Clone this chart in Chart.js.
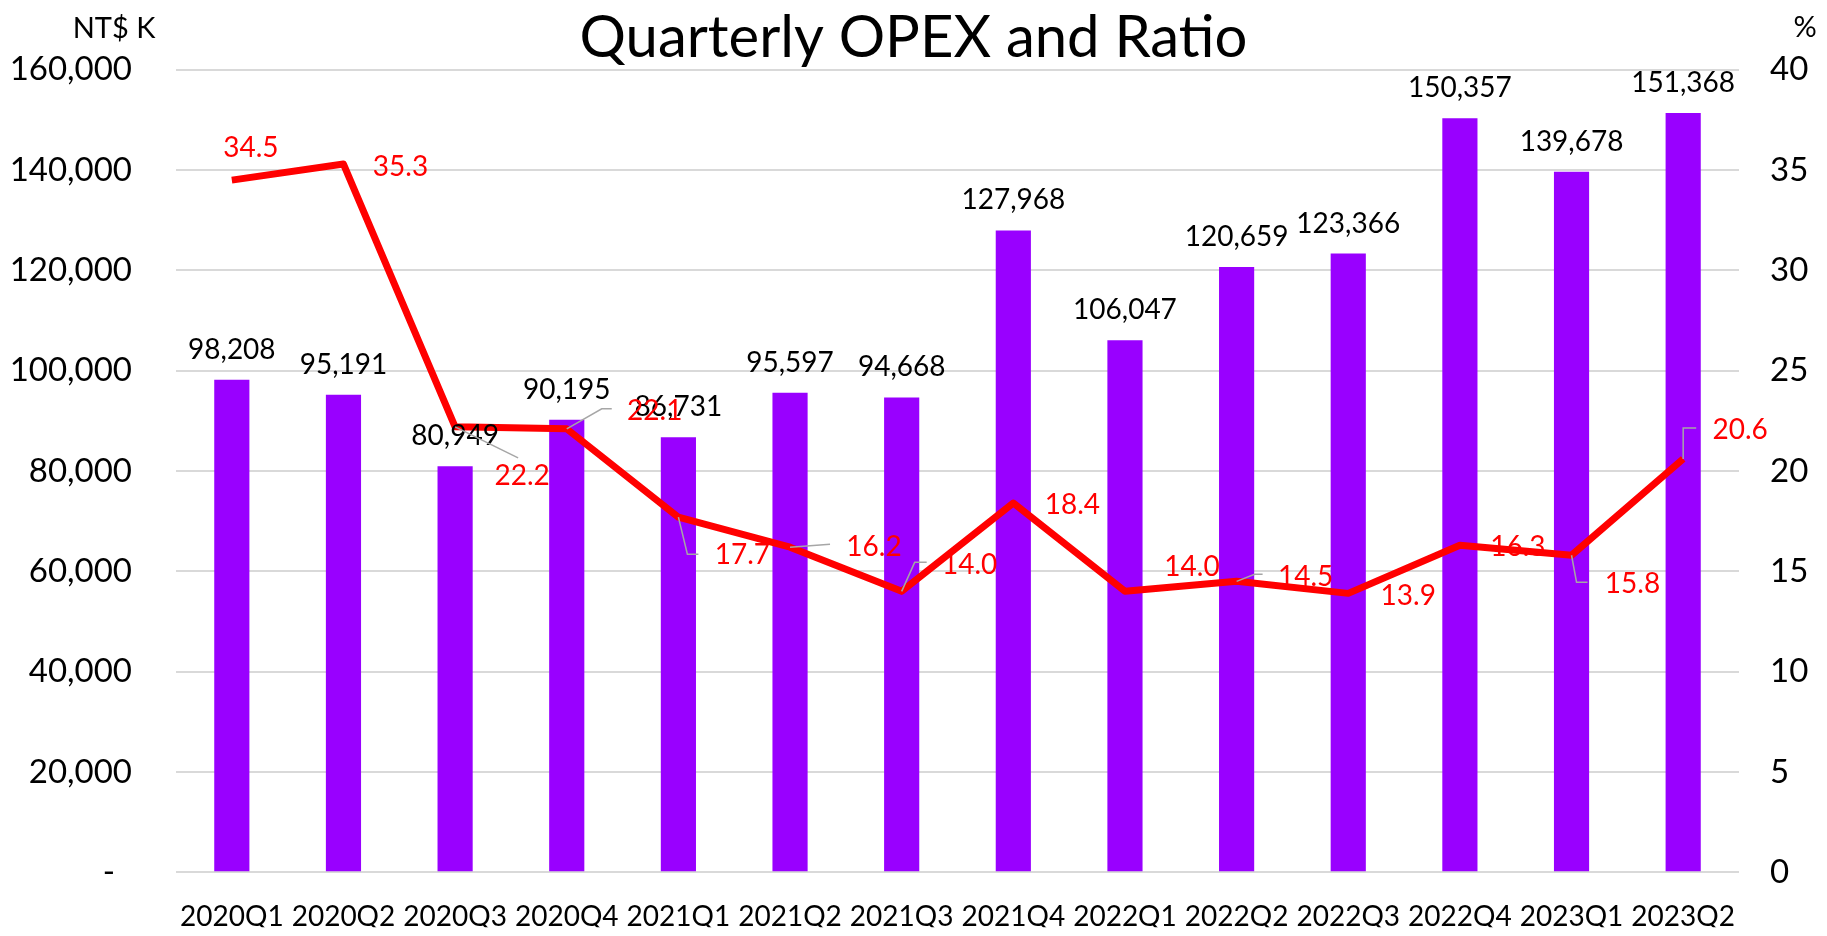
<!DOCTYPE html>
<html>
<head>
<meta charset="utf-8">
<script src="https://cdn.jsdelivr.net/npm/chart.js@4"></script>
<style>
  body { margin: 0; background: #fff; }
  #wrap { width: 1827px; height: 936px; }
</style>
</head>
<body>
<div id="wrap"><canvas id="opexChart" width="1827" height="936"></canvas></div>
<script>
// quarters on the x axis
const quarters = ['2020Q1', '2020Q2', '2020Q3', '2020Q4', '2021Q1', '2021Q2', '2021Q3',
                  '2021Q4', '2022Q1', '2022Q2', '2022Q3', '2022Q4', '2023Q1', '2023Q2'];
// operating expenses, NT$ thousand
const opexValues = [98208, 95191, 80949, 90195, 86731, 95597, 94668,
                    127968, 106047, 120659, 123366, 150357, 139678, 151368];
// OPEX ratio, %
const ratioValues = [34.5, 35.3, 22.2, 22.1, 17.7, 16.2, 14.0,
                     18.4, 14.0, 14.5, 13.9, 16.3, 15.8, 20.6];

// where each red label sits, relative to its point (px)
const ratioLabelOffset = [[19, -33], [57, 2], [67, 48], [88, -19], [64, 37], [84, -1], [68, -27],
                          [59, 1], [67, -25], [69, -5], [60, 2], [58, 1], [61, 28], [57, -30]];
// gray leader lines, same idea (point index -> bend points)
const ratioLeaders = {
  2: [[63, 31]],
  3: [[35, -20], [45, -20]],
  4: [[9, 37], [20, 37]],
  5: [[40, -3]],
  6: [[13, -29], [25, -29]],
  9: [[18, -7], [26, -7]],
  12: [[5, 27], [16, 27]],
  13: [[0, -31], [13, -31]]
};

const FONT = 'Lato, "Open Sans", sans-serif';

// labels, leader lines and the unit captions
const labelPlugin = {
  id: 'labels',
  afterDatasetsDraw(chart) {
    const ctx = chart.ctx;
    ctx.save();

    // bar values above the bars
    const bars = chart.getDatasetMeta(0).data;
    ctx.font = '28px ' + FONT;
    ctx.fillStyle = '#000';
    ctx.textAlign = 'center';
    ctx.textBaseline = 'alphabetic';
    bars.forEach((bar, i) => {
      ctx.fillText(opexValues[i].toLocaleString('en-US'), bar.x, bar.y - 21);
    });

    // leaders
    const pts = chart.getDatasetMeta(1).data;
    ctx.strokeStyle = '#a6a6a6';
    ctx.lineWidth = 1.5;
    Object.keys(ratioLeaders).forEach(k => {
      const p = pts[k];
      ctx.beginPath();
      ctx.moveTo(p.x, p.y);
      ratioLeaders[k].forEach(([dx, dy]) => ctx.lineTo(p.x + dx, p.y + dy));
      ctx.stroke();
    });

    // ratio values
    ctx.fillStyle = '#ff0000';
    ctx.textBaseline = 'middle';
    pts.forEach((p, i) => {
      const [dx, dy] = ratioLabelOffset[i];
      ctx.fillText(ratioValues[i].toFixed(1), p.x + dx, p.y + dy + 1);
    });

    // unit captions
    ctx.fillStyle = '#000';
    ctx.font = '29px ' + FONT;
    ctx.fillText('NT$ K', 114, 29);
    ctx.fillText('%', 1805, 28);
    ctx.restore();
  }
};

const ctx = document.getElementById('opexChart').getContext('2d');
new Chart(ctx, {
  data: {
    labels: quarters,
    datasets: [
      {
        type: 'bar',
        label: 'OPEX',
        data: opexValues,
        yAxisID: 'y',
        backgroundColor: '#9900ff',
        barPercentage: 0.315,
        categoryPercentage: 1,
        order: 1
      },
      {
        type: 'line',
        label: 'Ratio',
        data: ratioValues,
        yAxisID: 'y1',
        borderColor: '#ff0000',
        borderWidth: 7,
        borderJoinStyle: 'round',
        pointRadius: 0,
        tension: 0,
        order: 0
      }
    ]
  },
  options: {
    responsive: false,
    animation: false,
    layout: { padding: { top: 6, left: 0, right: 0, bottom: 0 } },
    plugins: {
      legend: { display: false },
      tooltip: { enabled: false },
      title: {
        display: true,
        text: 'Quarterly OPEX and Ratio',
        color: '#000',
        font: { family: FONT, size: 58, weight: 'normal', lineHeight: 1.1 },
        padding: { top: 0, bottom: 0 }
      }
    },
    scales: {
      x: {
        grid: { display: false },
        border: { display: false },
        ticks: {
          color: '#000',
          font: { family: FONT, size: 28 },
          padding: 20,
          maxRotation: 0,
          autoSkip: false
        },
        afterFit(scale) { scale.height = 55; }
      },
      y: {
        position: 'left',
        min: 0,
        max: 160000,
        grid: { color: '#d9d9d9', lineWidth: 2, drawTicks: false },
        border: { display: false },
        ticks: {
          stepSize: 20000,
          color: '#000',
          font: { family: FONT, size: 33 },
          padding: 44,
          callback: v => v === 0 ? '-  ' : v.toLocaleString('en-US')
        },
        afterFit(scale) { scale.width = 176; }
      },
      y1: {
        position: 'right',
        min: 0,
        max: 40,
        grid: { display: false, drawTicks: false },
        border: { display: false },
        ticks: {
          stepSize: 5,
          color: '#000',
          font: { family: FONT, size: 33 },
          padding: 31
        },
        afterFit(scale) { scale.width = 88; }
      }
    }
  },
  plugins: [labelPlugin]
});
</script>
</body>
</html>
